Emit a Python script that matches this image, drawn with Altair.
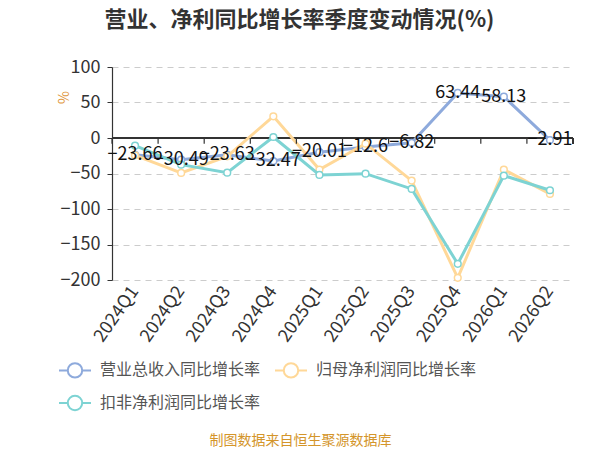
import altair as alt
import pandas as pd

quarters = ["2024Q1", "2024Q2", "2024Q3", "2024Q4", "2025Q1", "2025Q2",
            "2025Q3", "2025Q4", "2026Q1", "2026Q2"]
series_names = ["营业总收入同比增长率", "归母净利润同比增长率", "扣非净利润同比增长率"]
revenue = [-23.66, -30.49, -23.63, -32.47, -20.01, -12.6, -6.82, 63.44, 58.13, -2.91]
net_profit = [-24.4, -49.2, -25.8, 30.5, -44.5, -8.0, -60.0, -196.9, -44.5, -78.8]
deducted = [-10.8, -37.5, -48.8, 1.4, -52.0, -50.2, -71.7, -177.2, -53.0, -73.6]
colors = ["#8eaadc", "#ffd898", "#7dd3d3"]

rows = []
for name, vals in zip(series_names, [revenue, net_profit, deducted]):
    for q, v in zip(quarters, vals):
        rows.append({"quarter": q, "series": name, "value": v})
df = pd.DataFrame(rows)
rev_df = pd.DataFrame({"quarter": quarters, "value": revenue})

FONT = "Noto Sans CJK SC"
W, H = 461, 213

x_enc = alt.X("quarter:N", sort=quarters,
              scale=alt.Scale(type="band", paddingInner=0, paddingOuter=0),
              axis=alt.Axis(title="制图数据来自恒生聚源数据库", titleColor="#d4952a",
                            titleFontSize=14, titleFontWeight="normal", titleFont=FONT,
                            titleX=188, titleY=160, titleBaseline="middle", titleAlign="center",
                            labelAngle=-55, labelFontSize=18, labelColor="#333333",
                            labelFont=FONT, labelPadding=8, domain=False, ticks=False,
                            grid=False, labelOverlap=False))
y_scale = alt.Scale(domain=[-200, 100], nice=False, zero=False)
y_axis = alt.Axis(values=[-200, -150, -100, -50, 0, 50, 100], grid=True,
                  title="%", titleColor="#e0953a", titleFontSize=14,
                  titleFontWeight="normal", titleFont=FONT, titleX=-48, titleY=30,
                  titleAngle=-90, titleBaseline="middle", titleAlign="center",
                  labelFontSize=18, labelColor="#333333", labelFont=FONT,
                  labelPadding=7, tickSize=5, tickColor="#333333", labelOverlap=False,
                  domainColor="#333333", domainWidth=1.2,
                  gridColor="#cccccc", gridDash=[6, 5], gridWidth=1)
y_enc = alt.Y("value:Q", scale=y_scale, axis=y_axis)
color_enc = alt.Color("series:N", sort=series_names,
                      scale=alt.Scale(domain=series_names, range=colors),
                      legend=alt.Legend(title=None, orient="none", legendX=-54, legendY=286,
                                        direction="horizontal",
                                        columns=2, columnPadding=10, rowPadding=4,
                                        symbolType="M-1,0L-0.45,0M0.45,0L1,0M-0.45,0A0.45,0.45 0 1 1 0.45,0A0.45,0.45 0 1 1 -0.45,0",
                                        symbolSize=1024, symbolStrokeWidth=2,
                                        symbolFillColor="white", labelFontSize=16,
                                        labelColor="#555555", labelFont=FONT,
                                        labelLimit=400, labelOffset=8, padding=0))
stroke_enc = alt.Stroke("series:N", scale=alt.Scale(domain=series_names, range=colors),
                        legend=None)

base = alt.Chart(df)
layers = []
for name in series_names:
    sub = base.transform_filter(alt.datum.series == name)
    layers.append(sub.mark_line(strokeWidth=3).encode(x=x_enc, y=y_enc, color=color_enc))
    layers.append(sub.mark_point(filled=True, fill="white", size=45, strokeWidth=1.5, opacity=1)
                  .encode(x=x_enc, y=y_enc, stroke=stroke_enc))

zero_line = alt.Chart(rev_df).mark_rule(color="#333333", strokeWidth=1.2).encode(
    y=alt.Y(datum=0, scale=y_scale, axis=y_axis), x=alt.value(0), x2=alt.value(W))
ticks = alt.Chart(rev_df).mark_rule(color="#333333", strokeWidth=1.2).encode(
    x=alt.X("quarter:N", sort=quarters, bandPosition=0),
    y=alt.Y(datum=0, scale=y_scale, axis=y_axis), y2=alt.datum(-8))
end_tick = alt.Chart(rev_df).mark_rule(color="#333333", strokeWidth=1.2).encode(
    x=alt.value(W), y=alt.Y(datum=0, scale=y_scale, axis=y_axis), y2=alt.datum(-8))

labels = alt.Chart(rev_df).mark_text(fontSize=18, font=FONT, color="#111111",
                                     align="center", baseline="middle").encode(
    x=x_enc, y=y_enc, text=alt.Text("value:Q"))

chart = alt.layer(zero_line, *layers, ticks, end_tick, labels).properties(
    width=W, height=H,
    title=alt.TitleParams("营业、净利同比增长率季度变动情况(%)", fontSize=22, font=FONT,
                          fontWeight="bold", color="#333333", anchor="middle", dx=-43, dy=-22),
    autosize=alt.AutoSizeParams(type="none"),
    padding={"left": 104, "top": 59, "right": 11, "bottom": 180},
).configure_view(stroke=None)

chart.save("out.html", embed_options={"renderer": "svg", "actions": False})
